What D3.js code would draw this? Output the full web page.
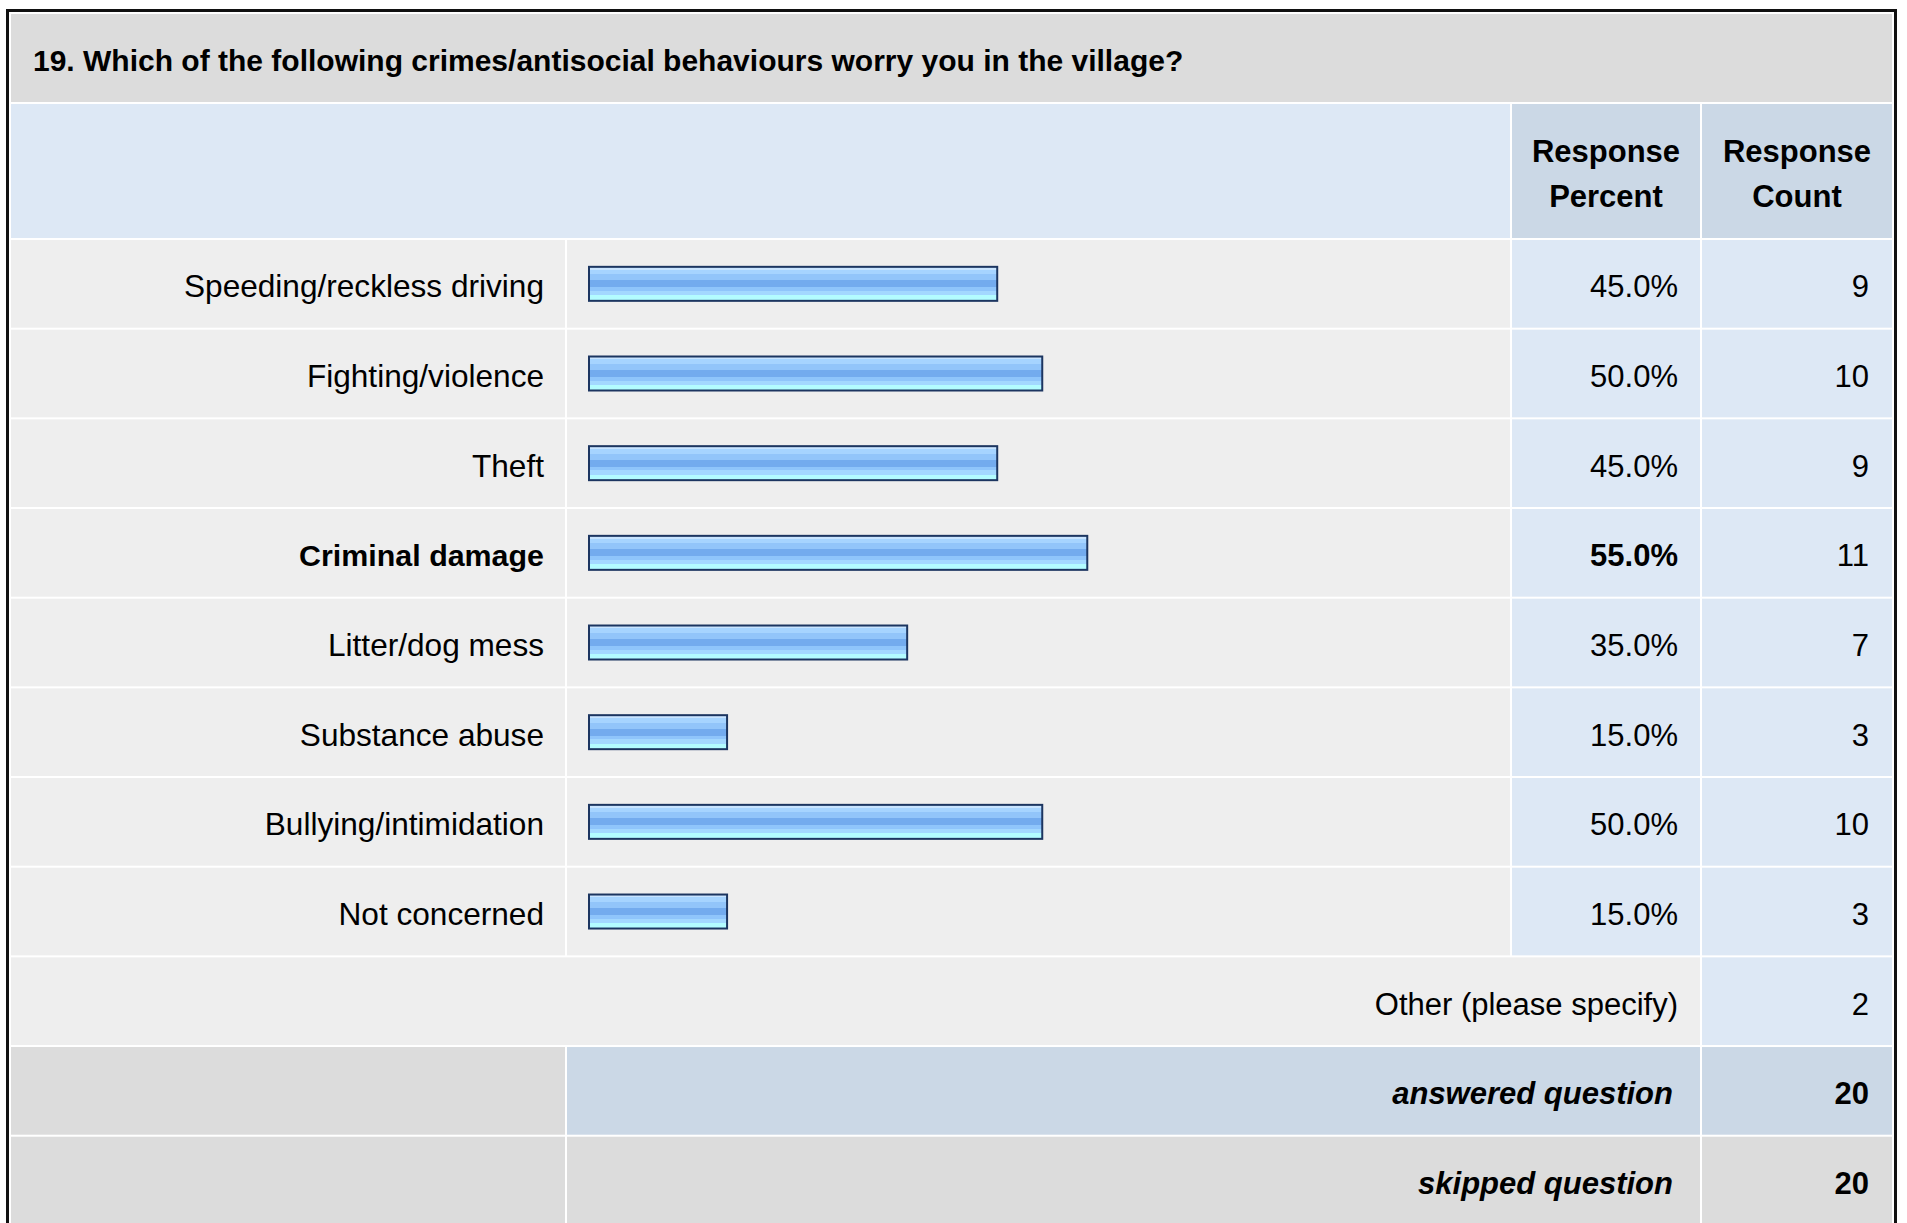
<!DOCTYPE html>
<html>
<head>
<meta charset="utf-8">
<script src="https://d3js.org/d3.v7.min.js"></script>
<style>
  body { margin: 0; background: #fff; }
  svg text { font-family: "Liberation Sans", Arial, Helvetica, sans-serif; }
</style>
</head>
<body>
<svg id="chart" width="1907" height="1223"></svg>
<script>
var title = "19. Which of the following crimes/antisocial behaviours worry you in the village?";
var categories = ["Speeding/reckless driving", "Fighting/violence", "Theft", "Criminal damage",
                  "Litter/dog mess", "Substance abuse", "Bullying/intimidation", "Not concerned"];
var percents = [45.0, 50.0, 45.0, 55.0, 35.0, 15.0, 50.0, 15.0];
var counts = [9, 10, 9, 11, 7, 3, 10, 3];
var headers = [["Response", "Percent"], ["Response", "Count"]];
var otherLabel = "Other (please specify)", otherCount = 2;
var summaryLabels = ["answered question", "skipped question"];
var summaryValues = [20, 20];

var svg = d3.select("#chart"),
    width = +svg.attr("width"),
    height = +svg.attr("height");

// column edges (left/right of each cell)
var colLabel = [11, 565], colBar = [567, 1510], colPct = [1512, 1700], colCount = [1702, 1892];
var step = 89.67, gap = 2, top0 = 240;

// all the body rows, 8 answers + other + 2 summary rows
var rowKeys = categories.concat(["__other", "__answered", "__skipped"]);
var y = d3.scaleBand()
    .domain(rowKeys)
    .range([top0, top0 + rowKeys.length * step - gap])
    .paddingInner(gap / step)
    .paddingOuter(0);

// bars start a few px left of the zero point (like the original image bars)
var x = d3.scaleLinear().domain([0, 100]).range([593, 1493.5]);
var barStart = 588;

var maxPct = d3.max(percents);

// gradient for the glossy bars
var defs = svg.append("defs");
var grad = defs.append("linearGradient").attr("id", "barGrad")
    .attr("x1", 0).attr("y1", 0).attr("x2", 0).attr("y2", 1);
var stops = [
  [0, "#c8e4ff"], [0.08, "#c8e4ff"], [0.08, "#a6d4ff"], [0.22, "#a6d4ff"],
  [0.22, "#92c5fa"], [0.40, "#92c5fa"], [0.40, "#73abee"], [0.60, "#73abee"],
  [0.60, "#8fc5fb"], [0.71, "#8fc5fb"], [0.71, "#a3d8ff"], [0.84, "#a3d8ff"],
  [0.84, "#b3fcff"], [1, "#b3fcff"]
];
stops.forEach(function(s) {
  grad.append("stop").attr("offset", s[0]).attr("stop-color", s[1]);
});

// white page + outer black frame
svg.append("rect").attr("width", width).attr("height", height).attr("fill", "#fff");
svg.append("rect")
    .attr("x", 7.5).attr("y", 10.5)
    .attr("width", 1895.5 - 7.5).attr("height", height + 20)
    .attr("fill", "none").attr("stroke", "#111").attr("stroke-width", 3);

function cell(x0, x1, y0, h, fill) {
  svg.append("rect").attr("x", x0).attr("y", y0)
      .attr("width", x1 - x0).attr("height", h).attr("fill", fill);
}

var GRAY = "#dcdcdc", LIGHT = "#eeeeee", BLUE = "#dde8f5", DBLUE = "#cbd8e6";

// title band
cell(11, 1892, 14, 88, GRAY);
svg.append("text").attr("x", 33).attr("y", 71)
    .attr("font-size", 30).attr("font-weight", "bold").attr("fill", "#000")
    .text(title);

// header band
cell(11, colBar[1], 104, 134, BLUE);
cell(colPct[0], colPct[1], 104, 134, DBLUE);
cell(colCount[0], colCount[1], 104, 134, DBLUE);
[colPct, colCount].forEach(function(c, i) {
  var t = svg.append("text").attr("text-anchor", "middle")
      .attr("font-size", 31).attr("font-weight", "bold").attr("fill", "#000");
  headers[i].forEach(function(line, j) {
    t.append("tspan").attr("x", (c[0] + c[1]) / 2).attr("y", 162 + j * 45).text(line);
  });
});

var bh = y.bandwidth();

// answer rows
var rows = svg.selectAll("g.row")
    .data(categories.map(function(c, i) { return {name: c, pct: percents[i], count: counts[i]}; }))
  .enter().append("g").attr("class", "row")
    .attr("transform", function(d) { return "translate(0," + y(d.name) + ")"; });

rows.append("rect").attr("x", colLabel[0]).attr("width", colLabel[1] - colLabel[0])
    .attr("height", bh).attr("fill", LIGHT);
rows.append("rect").attr("x", colBar[0]).attr("width", colBar[1] - colBar[0])
    .attr("height", bh).attr("fill", LIGHT);
rows.append("rect").attr("x", colPct[0]).attr("width", colPct[1] - colPct[0])
    .attr("height", bh).attr("fill", BLUE);
rows.append("rect").attr("x", colCount[0]).attr("width", colCount[1] - colCount[0])
    .attr("height", bh).attr("fill", BLUE);

// the bars
var barH = 36;
rows.append("rect")
    .attr("x", barStart + 1)
    .attr("y", (bh - barH) / 2 + 1)
    .attr("width", function(d) { return x(d.pct) - barStart - 2; })
    .attr("height", barH - 2)
    .attr("fill", "url(#barGrad)")
    .attr("stroke", "#1c3560").attr("stroke-width", 2);

var baseOff = bh / 2 + 13.5;

rows.append("text").attr("x", 544).attr("y", baseOff)
    .attr("text-anchor", "end")
    .attr("font-size", function(d) { return d.pct === maxPct ? 30.4 : 31.6; })
    .attr("font-weight", function(d) { return d.pct === maxPct ? "bold" : "normal"; })
    .text(function(d) { return d.name; });

rows.append("text").attr("x", 1678).attr("y", baseOff)
    .attr("text-anchor", "end").attr("font-size", 31)
    .attr("font-weight", function(d) { return d.pct === maxPct ? "bold" : "normal"; })
    .text(function(d) { return d3.format(".1f")(d.pct) + "%"; });

rows.append("text").attr("x", 1869).attr("y", baseOff)
    .attr("text-anchor", "end").attr("font-size", 31)
    .text(function(d) { return d.count; });

// other row
var yo = y("__other");
cell(colLabel[0], colPct[1], yo, bh, LIGHT);
cell(colCount[0], colCount[1], yo, bh, BLUE);
svg.append("text").attr("x", 1678).attr("y", yo + baseOff)
    .attr("text-anchor", "end").attr("font-size", 31).text(otherLabel);
svg.append("text").attr("x", 1869).attr("y", yo + baseOff)
    .attr("text-anchor", "end").attr("font-size", 31).text(otherCount);

// answered / skipped
["__answered", "__skipped"].forEach(function(k, i) {
  var yy = y(k);
  var mid = i === 0 ? DBLUE : GRAY;
  cell(colLabel[0], colLabel[1], yy, bh, GRAY);
  cell(colBar[0], colPct[1], yy, bh, mid);
  cell(colCount[0], colCount[1], yy, bh, mid);
  svg.append("text").attr("x", 1673).attr("y", yy + baseOff)
      .attr("text-anchor", "end").attr("font-size", 31)
      .attr("font-weight", "bold").attr("font-style", "italic")
      .text(summaryLabels[i]);
  svg.append("text").attr("x", 1869).attr("y", yy + baseOff)
      .attr("text-anchor", "end").attr("font-size", 31).attr("font-weight", "bold")
      .text(summaryValues[i]);
});
</script>
</body>
</html>
